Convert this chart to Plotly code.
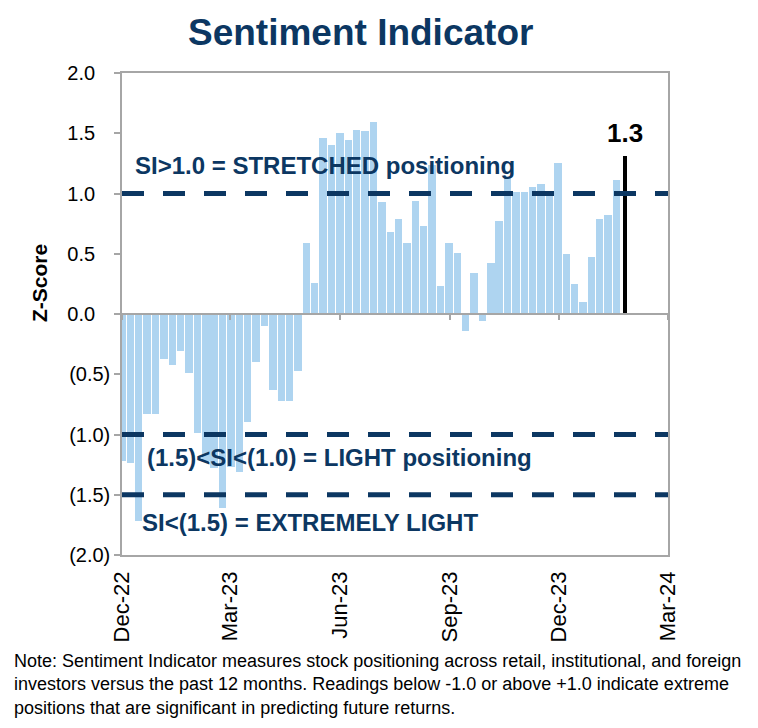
import plotly.graph_objects as go
import pandas as pd

# ---- data ----
start_date = "2022-12-02"
si_values = [
    -1.22, -1.24, -1.72, -0.83, -0.83, -0.375, -0.42, -0.305, -0.49, -0.99,
    -1.22, -1.28, -1.61, -1.27, -1.31, -0.90, -0.40, -0.10, -0.63, -0.72,
    -0.72, -0.47, 0.59, 0.26, 1.46, 1.40, 1.50, 1.44, 1.53, 1.52,
    1.59, 0.93, 0.68, 0.785, 0.59, 0.94, 0.73, 1.24, 0.23, 0.59,
    0.51, -0.14, 0.34, -0.06, 0.42, 0.77, 1.14, 1.01, 1.01, 1.05,
    1.08, 1.01, 1.25, 0.50, 0.25, 0.10, 0.47, 0.79, 0.82, 1.11,
]
latest_value = 1.31
latest_label = "1.3"

dates = pd.date_range(start_date, periods=len(si_values) + 1, freq="7D")
hist_dates = dates[:-1]
latest_date = dates[-1]

x_tick_vals = ["2022-12-02", "2023-03-02", "2023-06-02", "2023-09-02", "2023-12-02", "2024-03-02"]
x_tick_text = ["Dec-22", "Mar-23", "Jun-23", "Sep-23", "Dec-23", "Mar-24"]
y_tick_vals = [2.0, 1.5, 1.0, 0.5, 0.0, -0.5, -1.0, -1.5, -2.0]
PAD = "\u2007\u2009"
y_tick_text = ["2.0" + PAD, "1.5" + PAD, "1.0" + PAD, "0.5" + PAD, "0.0" + PAD,
               "(0.5)", "(1.0)", "(1.5)", "(2.0)"]

threshold_levels = [1.0, -1.0, -1.5]
zone_labels = ["SI>1.0 = STRETCHED positioning", "(1.5)<SI<(1.0) = LIGHT positioning", "SI<(1.5) = EXTREMELY LIGHT"]
zone_label_y = [1.23, -1.19, -1.73]
zone_label_px = [133, 145, 140]

title_text = "Sentiment Indicator"
note_text = ("Note: Sentiment Indicator measures stock positioning across retail, institutional, and foreign<br>"
             "investors versus the past 12 months. Readings below -1.0 or above +1.0 indicate extreme<br>"
             "positions that are significant in predicting future returns.")

NAVY = "#0c3762"
BAR = "#aed4f0"
GREY = "#a6a6a6"
ARIAL = "Liberation Sans, Arial, sans-serif"
DAY_MS = 86400000

# plot-area geometry (page px); html body adds an 8px offset
PL, PT, PW, PH = 122, 73, 546, 482
OFF = 8


def px_x(px):
    return (px - PL) / PW


def px_y(py):
    return (PT + PH - py) / PH


fig = go.Figure()
fig.add_trace(go.Bar(
    x=hist_dates, y=si_values, width=6.2 * DAY_MS,
    marker=dict(color=BAR, line=dict(width=0)), showlegend=False, xaxis="x", yaxis="y",
))
fig.add_trace(go.Bar(
    x=[latest_date], y=[latest_value], width=3.6 * DAY_MS,
    marker=dict(color="black", line=dict(width=0)), showlegend=False, xaxis="x2", yaxis="y",
))

x_range = ["2022-12-02", "2024-03-02"]
fig.update_layout(
    width=758, height=728,
    margin=dict(l=PL - OFF, r=758 - (PL - OFF) - PW, t=PT - OFF, b=728 - (PT - OFF) - PH),
    paper_bgcolor="white", plot_bgcolor="white",
    barmode="overlay", bargap=0,
    xaxis=dict(
        type="date", range=x_range, tickvals=x_tick_vals, ticktext=x_tick_text,
        tickangle=-90, ticks="", showgrid=False, zeroline=False,
        showline=True, linecolor=GREY, linewidth=1.5, mirror=True,
        tickfont=dict(family=ARIAL, size=22, color="black"),
        ticklabelstandoff=6,
    ),
    xaxis2=dict(
        type="date", range=x_range, tickvals=x_tick_vals, showticklabels=False,
        overlaying="x", anchor="free", position=0.5, ticks="outside", ticklen=5,
        tickcolor=GREY, tickwidth=1.5, showline=True, linecolor=GREY, linewidth=1.5,
        showgrid=False, zeroline=False,
    ),
    yaxis=dict(
        range=[-2, 2], tickvals=y_tick_vals, ticktext=y_tick_text,
        ticks="outside", ticklen=6, tickcolor=GREY, tickwidth=1.5,
        showgrid=False, zeroline=False, showline=True, linecolor=GREY, linewidth=1.5, mirror=True,
        tickfont=dict(family=ARIAL, size=20, color="black"),
    ),
)

for lvl in threshold_levels:
    fig.add_shape(type="line", xref="paper", x0=0, x1=1, yref="y", y0=lvl, y1=lvl,
                  line=dict(color=NAVY, width=5, dash="22px,19px"), layer="above")

for txt, yy, xx in zip(zone_labels, zone_label_y, zone_label_px):
    fig.add_annotation(text=txt, xref="paper", x=px_x(xx), yref="y", y=yy, xanchor="left", yanchor="middle",
                       showarrow=False, font=dict(family=ARIAL, size=24, color=NAVY, weight="bold"))

fig.add_annotation(text=latest_label, xref="x2", x=latest_date, yref="y", y=latest_value,
                   yanchor="bottom", yshift=6, showarrow=False,
                   font=dict(family=ARIAL, size=26, color="black", weight="bold"))

fig.add_annotation(text=title_text, xref="paper", x=px_x(360), yref="paper", y=px_y(32),
                   xanchor="center", yanchor="middle", showarrow=False,
                   font=dict(family=ARIAL, size=37, color=NAVY, weight="bold"))

fig.add_annotation(text="Z-Score", xref="paper", x=px_x(39), yref="paper", y=px_y(283),
                   textangle=-90, xanchor="center", yanchor="middle", showarrow=False,
                   font=dict(family=ARIAL, size=21, color="black", weight="bold"))

fig.add_annotation(text=note_text, xref="paper", x=px_x(12), yref="paper", y=px_y(684),
                   xanchor="left", yanchor="middle", align="left", showarrow=False,
                   font=dict(family=ARIAL, size=18, color="black"))

fig.write_html("out.html")
